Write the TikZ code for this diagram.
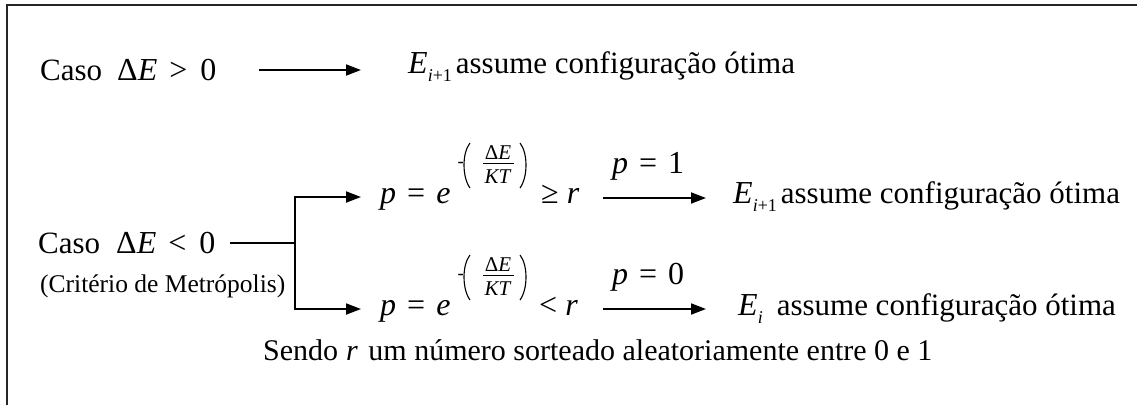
\documentclass[tikz,border=0pt]{standalone}
\usepackage{fontspec}
\setmainfont{Liberation Serif}
\usetikzlibrary{arrows.meta}
\newcommand\mi[1]{\textit{#1}}
\newcommand\subsc[1]{\raisebox{-8pt}{\fontsize{18}{20}\selectfont #1}}
\tikzset{
 txt/.style={font=\fontsize{31}{37}\selectfont, inner sep=0pt, anchor=base west},
 mth/.style={font=\fontsize{32}{38}\selectfont, inner sep=0pt, anchor=base west},
 smalltxt/.style={font=\fontsize{25.5}{30}\selectfont, inner sep=0pt, anchor=base west},
 exptxt/.style={font=\fontsize{21}{25}\selectfont, inner sep=0pt, anchor=base},
 arr/.style={line width=1.8pt, -{Triangle[length=15pt,width=11pt]}},
 ln/.style={line width=1.8pt},
 paren/.style={line width=1.1pt},
 frame/.style={line width=1.6pt, draw=black!85},
 exponent/.pic={
   \node[exptxt, anchor=base west, font=\fontsize{19}{23}\selectfont] (minus) at (0.5,2.5) {-};
   \draw[paren] (13,-22) .. controls (5,-12) and (5,12) .. (13,23);
   \node[exptxt] (num) at (41,-6) {Δ\mi{E}};
   \node[exptxt] (den) at (41,18) {\mi{KT}};
   \draw[line width=0.8pt] (26,-1.5) -- (57,-1.5);
   \draw[paren] (63,-22) .. controls (71,-12) and (71,12) .. (63,23);
 },
}
\begin{document}
\begin{tikzpicture}[x=1pt,y=-1pt]
\useasboundingbox (0,0) rectangle (1137,405);
\draw[frame] (7,405) -- (7,5) -- (1137,5);
% row 1
\node[txt] (caso1) at (40,80) {Caso};
\node[mth] (de1) at (117,80) {Δ\mi{E}\hspace{12pt}>\hspace{13pt}0};
\coordinate (a1s) at (259,70);
\coordinate (a1e) at (361,70);
\draw[arr] (a1s) -- (a1e);
\node[txt] (res1) at (408,73) {{\fontsize{32}{38}\selectfont\mi{E}}\subsc{\mi{i}+1}\hspace{4pt}assume configuração ótima};
% branch
\node[txt] (caso2) at (38,253) {Caso};
\node[mth] (de2) at (116,253) {Δ\mi{E}\hspace{12pt}<\hspace{13pt}0};
\node[smalltxt] (crit) at (40,292) {(Critério de Metrópolis)};
\coordinate (bl) at (230,243);
\coordinate (bm) at (295,243);
\coordinate (bt) at (295,197);
\coordinate (bb) at (295,309);
\coordinate (bte) at (361,197);
\coordinate (bbe) at (361,309);
\draw[ln] (bl) -- (bm);
\draw[ln] (bt) -- (bb);
\draw[arr] ([xshift=-0.9pt]bt) -- (bte);
\draw[arr] ([xshift=-0.9pt]bb) -- (bbe);
% row 2
\node[mth] (pa) at (380,203) {\mi{p}\hspace{11pt}=\hspace{11pt}\mi{e}};
\pic (xa) at (457,165) {exponent};
\node[mth] (ra) at (541,203) {≥\hspace{8pt}\mi{r}};
\node[mth] (la) at (612,173) {\mi{p}\hspace{11pt}=\hspace{11pt}1};
\coordinate (a2s) at (603,198);
\coordinate (a2e) at (706,198);
\draw[arr] (a2s) -- (a2e);
\node[txt] (res2) at (733,203) {{\fontsize{32}{38}\selectfont\mi{E}}\subsc{\mi{i}+1}\hspace{4pt}assume configuração ótima};
% row 3
\node[mth] (pb) at (380,315) {\mi{p}\hspace{11pt}=\hspace{11pt}\mi{e}};
\pic (xb) at (457,277) {exponent};
\node[mth] (rb) at (539,315) {<\hspace{8pt}\mi{r}};
\node[mth] (lb) at (612,284) {\mi{p}\hspace{11pt}=\hspace{11pt}0};
\coordinate (a3s) at (603,309);
\coordinate (a3e) at (706,309);
\draw[arr] (a3s) -- (a3e);
\node[txt] (res3) at (738,315) {{\fontsize{32}{38}\selectfont\mi{E}}\subsc{\mi{i}}\hspace{14pt}assume configuração ótima};
% note
\node[txt] (note) at (263,360) {\fontsize{30}{36}\selectfont Sendo\hspace{8pt}\mi{r}\hspace{3pt} um número sorteado aleatoriamente entre 0 e 1};
\end{tikzpicture}
\end{document}
